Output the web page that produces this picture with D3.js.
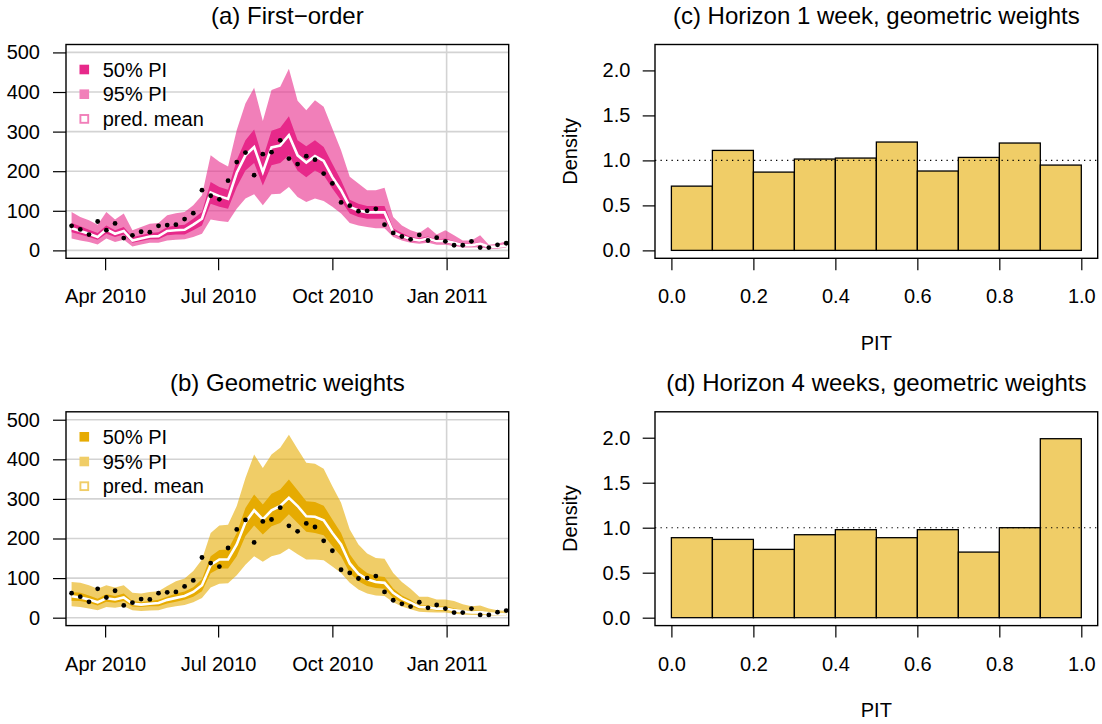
<!DOCTYPE html>
<html>
<head>
<meta charset="utf-8">
<script src="https://cdn.jsdelivr.net/npm/d3@7"></script>
<style>
  body { margin: 0; background: #fff; }
  text { font-family: "Liberation Sans", Arial, Helvetica, sans-serif; fill: #000; }
</style>
</head>
<body>
<div id="viz"></div>
<script>
// weekly counts, first week starts 5 Mar 2010
var startDate = Date.UTC(2010, 2, 5)
var nWeeks = 51

var observed = [62,53,40,73,51,68,31,38,47,46, 62,64,65,79,94,152,138,129,176,223,
  247,190,243,248,278,232,218,238,229,194, 169,121,113,99,100,105,65,44,35,28,
  39,25,32,23,13,13,23,7,7,14,18]

// (a) first-order model
var foMean = [56,49,42,34,53,42,49,25,30,35, 36,49,51,52,65,80,146,137,130,196,
  240,261,198,260,265,291,240,222,238,226, 185,152,110,101,96,96,96,46,36,29,
  25,30,23,24,19,13,13,17,9,9,12]
var fo50lo = [46,40,34,27,42,34,40,19,24,28, 28,38,40,40,51,63,118,110,105,160,
  202,221,164,215,221,240,201,185,202,190, 156,126,93,84,80,80,80,40,31,24,
  21,25,19,19,15,10,10,13,7,7,10]
var fo50hi = [69,61,52,44,63,51,59,34,38,44, 46,59,63,65,80,97,173,160,153,228,
  278,305,232,302,310,339,278,263,278,261, 219,177,128,118,112,112,112,55,44,34,
  30,35,27,30,23,17,17,21,11,11,15]
var fo95lo = [30,25,21,15,30,21,27,10,15,19, 19,25,27,28,34,42,78,74,72,105,
  131,142,114,142,143,160,135,122,131,125, 110,93,69,63,59,56,56,34,25,19,
  17,19,14,14,11,7,7,8,4,4,7]
var fo95hi = [97,84,76,65,97,78,93,51,59,67, 69,89,94,97,114,139,240,224,212,304,
  371,411,327,405,413,459,378,354,379,363, 308,253,186,169,152,152,158,84,63,51,
  44,59,40,51,38,25,25,38,14,17,23]

// (b) geometric weights
var geMean = [54,51,46,39,49,46,51,35,33,35, 37,45,50,55,65,82,133,147,147,185,
  241,271,248,271,282,303,282,256,255,246, 214,185,137,111,97,90,88,63,48,38,
  27,26,23,23,19,16,13,14,11,9,8]
var ge50lo = [43,42,38,31,40,38,42,28,27,29, 29,36,40,45,53,67,112,124,124,155,
  206,233,210,231,239,261,239,217,214,208, 181,155,113,92,80,75,73,50,38,29,
  21,21,18,18,15,13,11,11,8,8,7]
var ge50hi = [65,63,56,48,59,55,61,42,39,42, 45,53,61,66,77,97,155,171,172,214,
  277,311,286,313,324,349,322,294,292,283, 248,214,160,130,113,105,103,74,56,45,
  31,31,28,28,24,19,17,18,13,11,10]
var ge95lo = [29,27,23,19,27,25,29,19,17,18, 19,25,29,32,39,50,76,86,87,107,
  134,155,141,155,161,175,160,147,147,145, 129,113,88,71,61,56,55,39,28,21,
  15,14,13,13,10,8,7,7,6,5,5]
var ge95hi = [90,88,82,73,82,76,82,63,61,65, 67,80,92,99,118,147,214,233,235,282,
  353,412,378,412,429,462,426,391,389,376, 332,290,223,185,162,151,149,113,90,73,
  53,53,46,46,42,34,29,31,23,19,17]

// PIT histograms, 10 bins on [0,1]
var pitBreaks = [0,0.1,0.2,0.3,0.4,0.5,0.6,0.7,0.8,0.9,1]
var pitH1 = [0.714,1.111,0.870,1.015,1.026,1.204,0.882,1.033,1.193,0.948]
var pitH4 = [0.889,0.870,0.759,0.922,0.978,0.889,0.978,0.729,1.0,1.989]

var yTicks = [0,100,200,300,400,500]
var dateTicks = [Date.UTC(2010,3,1), Date.UTC(2010,6,1), Date.UTC(2010,9,1), Date.UTC(2011,0,1)]
var dateLabels = ["Apr 2010", "Jul 2010", "Oct 2010", "Jan 2011"]
var pitTicks = [0,0.2,0.4,0.6,0.8,1.0]
var densTicks = [0,0.5,1.0,1.5,2.0]

var pink = {dark: "#E7298A", light: "#F17FB9"}
var gold = {dark: "#E6AB02", light: "#F0CD67"}

var W = 1102, H = 724
var rowTop = [44.5, 411.8]
var boxH = 213.8

var svg = d3.select("#viz").append("svg")
  .attr("width", W).attr("height", H)
svg.append("rect").attr("width", W).attr("height", H).attr("fill", "#fff")

var dates = d3.range(nWeeks).map(function(i) { return new Date(startDate + i * 7 * 86400000) })

function fanPanel(top, title, col, mean, lo50, hi50, lo95, hi95, id) {
  var x0 = 66, x1 = 508.7
  var bottom = top + boxH
  var xScale = d3.scaleUtc()
    .domain([new Date(Date.UTC(2010,1,28,12)), new Date(Date.UTC(2011,1,20))])
    .range([x0, x1])
  var yScale = d3.scaleLinear().domain([-20, 520]).range([bottom, top])

  var g = svg.append("g")

  svg.append("clipPath").attr("id", "clip" + id)
    .append("rect").attr("x", x0).attr("y", top).attr("width", x1 - x0).attr("height", boxH)

  // grid
  g.selectAll(".hgrid").data(yTicks).enter().append("line")
    .attr("x1", x0).attr("x2", x1)
    .attr("y1", function(d) { return yScale(d) }).attr("y2", function(d) { return yScale(d) })
    .attr("stroke", "#D3D3D3").attr("stroke-width", 1.6)
  g.append("line")
    .attr("x1", xScale(dateTicks[3])).attr("x2", xScale(dateTicks[3]))
    .attr("y1", top).attr("y2", bottom)
    .attr("stroke", "#D3D3D3").attr("stroke-width", 1.6)

  var rows = dates.map(function(d, i) {
    return {date: d, obs: observed[i], mean: mean[i], lo50: lo50[i], hi50: hi50[i], lo95: lo95[i], hi95: hi95[i]}
  })

  var plot = g.append("g").attr("clip-path", "url(#clip" + id + ")")

  var area95 = d3.area()
    .x(function(d) { return xScale(d.date) })
    .y0(function(d) { return yScale(d.lo95) })
    .y1(function(d) { return yScale(d.hi95) })
  var area50 = d3.area()
    .x(function(d) { return xScale(d.date) })
    .y0(function(d) { return yScale(d.lo50) })
    .y1(function(d) { return yScale(d.hi50) })
  var meanLine = d3.line()
    .x(function(d) { return xScale(d.date) })
    .y(function(d) { return yScale(d.mean) })

  plot.append("path").datum(rows).attr("d", area95)
    .attr("fill", col.dark).attr("fill-opacity", 0.6)
  plot.append("path").datum(rows).attr("d", area50)
    .attr("fill", col.dark)
  plot.append("path").datum(rows).attr("d", meanLine)
    .attr("fill", "none").attr("stroke", "#fff").attr("stroke-width", 2.6)
  plot.selectAll("circle").data(rows).enter().append("circle")
    .attr("cx", function(d) { return xScale(d.date) })
    .attr("cy", function(d) { return yScale(d.obs) })
    .attr("r", 2.4).attr("fill", "#000")

  // box
  g.append("rect").attr("x", x0).attr("y", top).attr("width", x1 - x0).attr("height", boxH)
    .attr("fill", "none").attr("stroke", "#000").attr("stroke-width", 1.4)

  // axes
  var y_axis = d3.axisLeft(yScale).tickValues(yTicks).tickSize(13).tickPadding(13)
  var ya = g.append("g").attr("transform", "translate(" + x0 + ",0)").call(y_axis)
  var x_axis = d3.axisBottom(xScale).tickValues(dateTicks.map(function(d) { return new Date(d) }))
    .tickSize(12).tickPadding(18.8)
    .tickFormat(function(d, i) { return dateLabels[i] })
  var xa = g.append("g").attr("transform", "translate(0," + bottom + ")").call(x_axis)
  styleAxis(ya); styleAxis(xa)

  g.append("text").attr("x", (x0 + x1) / 2).attr("y", top - 21)
    .attr("text-anchor", "middle").style("font-size", "24px").text(title)

  // legend
  var lg = g.append("g")
  var entries = [["50% PI", col.dark, "solid"], ["95% PI", col.light, "solid"], ["pred. mean", col.light, "open"]]
  entries.forEach(function(e, i) {
    var cy = top + 25 + i * 24.7
    if (e[2] == "solid") {
      lg.append("rect").attr("x", 79.5).attr("y", cy - 4.8).attr("width", 9.6).attr("height", 9.6).attr("fill", e[1])
    } else {
      lg.append("rect").attr("x", 80.4).attr("y", cy - 3.9).attr("width", 7.8).attr("height", 7.8)
        .attr("fill", "#fff").attr("stroke", e[1]).attr("stroke-width", 1.9)
    }
    lg.append("text").attr("x", 102.7).attr("y", cy + 7).style("font-size", "20px").text(e[0])
  })
}

function styleAxis(a) {
  a.select(".domain").remove()
  a.selectAll(".tick line").attr("stroke", "#000").attr("stroke-width", 1.2)
  a.selectAll(".tick text").style("font-size", "20px").attr("fill", "#000")
    .style("font-family", "'Liberation Sans', Arial, Helvetica, sans-serif")
}

function pitPanel(top, title, dens) {
  var x0 = 655, x1 = 1097.7
  var bottom = top + boxH
  var xScale = d3.scaleLinear().domain([-0.04, 1.04]).range([x0, x1])
  var yScale = d3.scaleLinear().domain([-0.088, 2.288]).range([bottom, top])
  var g = svg.append("g")

  var bins = dens.map(function(d, i) { return {x0: pitBreaks[i], x1: pitBreaks[i + 1], d: d} })
  g.selectAll(".bar").data(bins).enter().append("rect")
    .attr("x", function(d) { return xScale(d.x0) })
    .attr("y", function(d) { return yScale(d.d) })
    .attr("width", function(d) { return xScale(d.x1) - xScale(d.x0) })
    .attr("height", function(d) { return yScale(0) - yScale(d.d) })
    .attr("fill", gold.light).attr("stroke", "#000").attr("stroke-width", 1.3)

  g.append("line").attr("x1", x0).attr("x2", x1)
    .attr("y1", yScale(1)).attr("y2", yScale(1))
    .attr("stroke", "#000").attr("stroke-width", 1.1).attr("stroke-dasharray", "1.3,4.2")

  g.append("rect").attr("x", x0).attr("y", top).attr("width", x1 - x0).attr("height", boxH)
    .attr("fill", "none").attr("stroke", "#000").attr("stroke-width", 1.4)

  var y_axis = d3.axisLeft(yScale).tickValues(densTicks).tickSize(12.3).tickPadding(12.3)
    .tickFormat(d3.format(".1f"))
  var ya = g.append("g").attr("transform", "translate(" + x0 + ",0)").call(y_axis)
  var x_axis = d3.axisBottom(xScale).tickValues(pitTicks).tickSize(12).tickPadding(18.8)
    .tickFormat(d3.format(".1f"))
  var xa = g.append("g").attr("transform", "translate(0," + bottom + ")").call(x_axis)
  styleAxis(ya); styleAxis(xa)

  g.append("text").attr("x", (x0 + x1) / 2).attr("y", top - 21)
    .attr("text-anchor", "middle").style("font-size", "24px").text(title)
  g.append("text").attr("x", (x0 + x1) / 2).attr("y", bottom + 91.5)
    .attr("text-anchor", "middle").style("font-size", "20px").text("PIT")
  g.append("text").attr("transform", "translate(577," + (top + boxH / 2) + ") rotate(-90)")
    .attr("text-anchor", "middle").style("font-size", "20px").text("Density")
}

fanPanel(rowTop[0], "(a) First\u2212order", pink, foMean, fo50lo, fo50hi, fo95lo, fo95hi, "a")
fanPanel(rowTop[1], "(b) Geometric weights", gold, geMean, ge50lo, ge50hi, ge95lo, ge95hi, "b")
pitPanel(rowTop[0], "(c) Horizon 1 week, geometric weights", pitH1)
pitPanel(rowTop[1], "(d) Horizon 4 weeks, geometric weights", pitH4)
</script>
</body>
</html>
